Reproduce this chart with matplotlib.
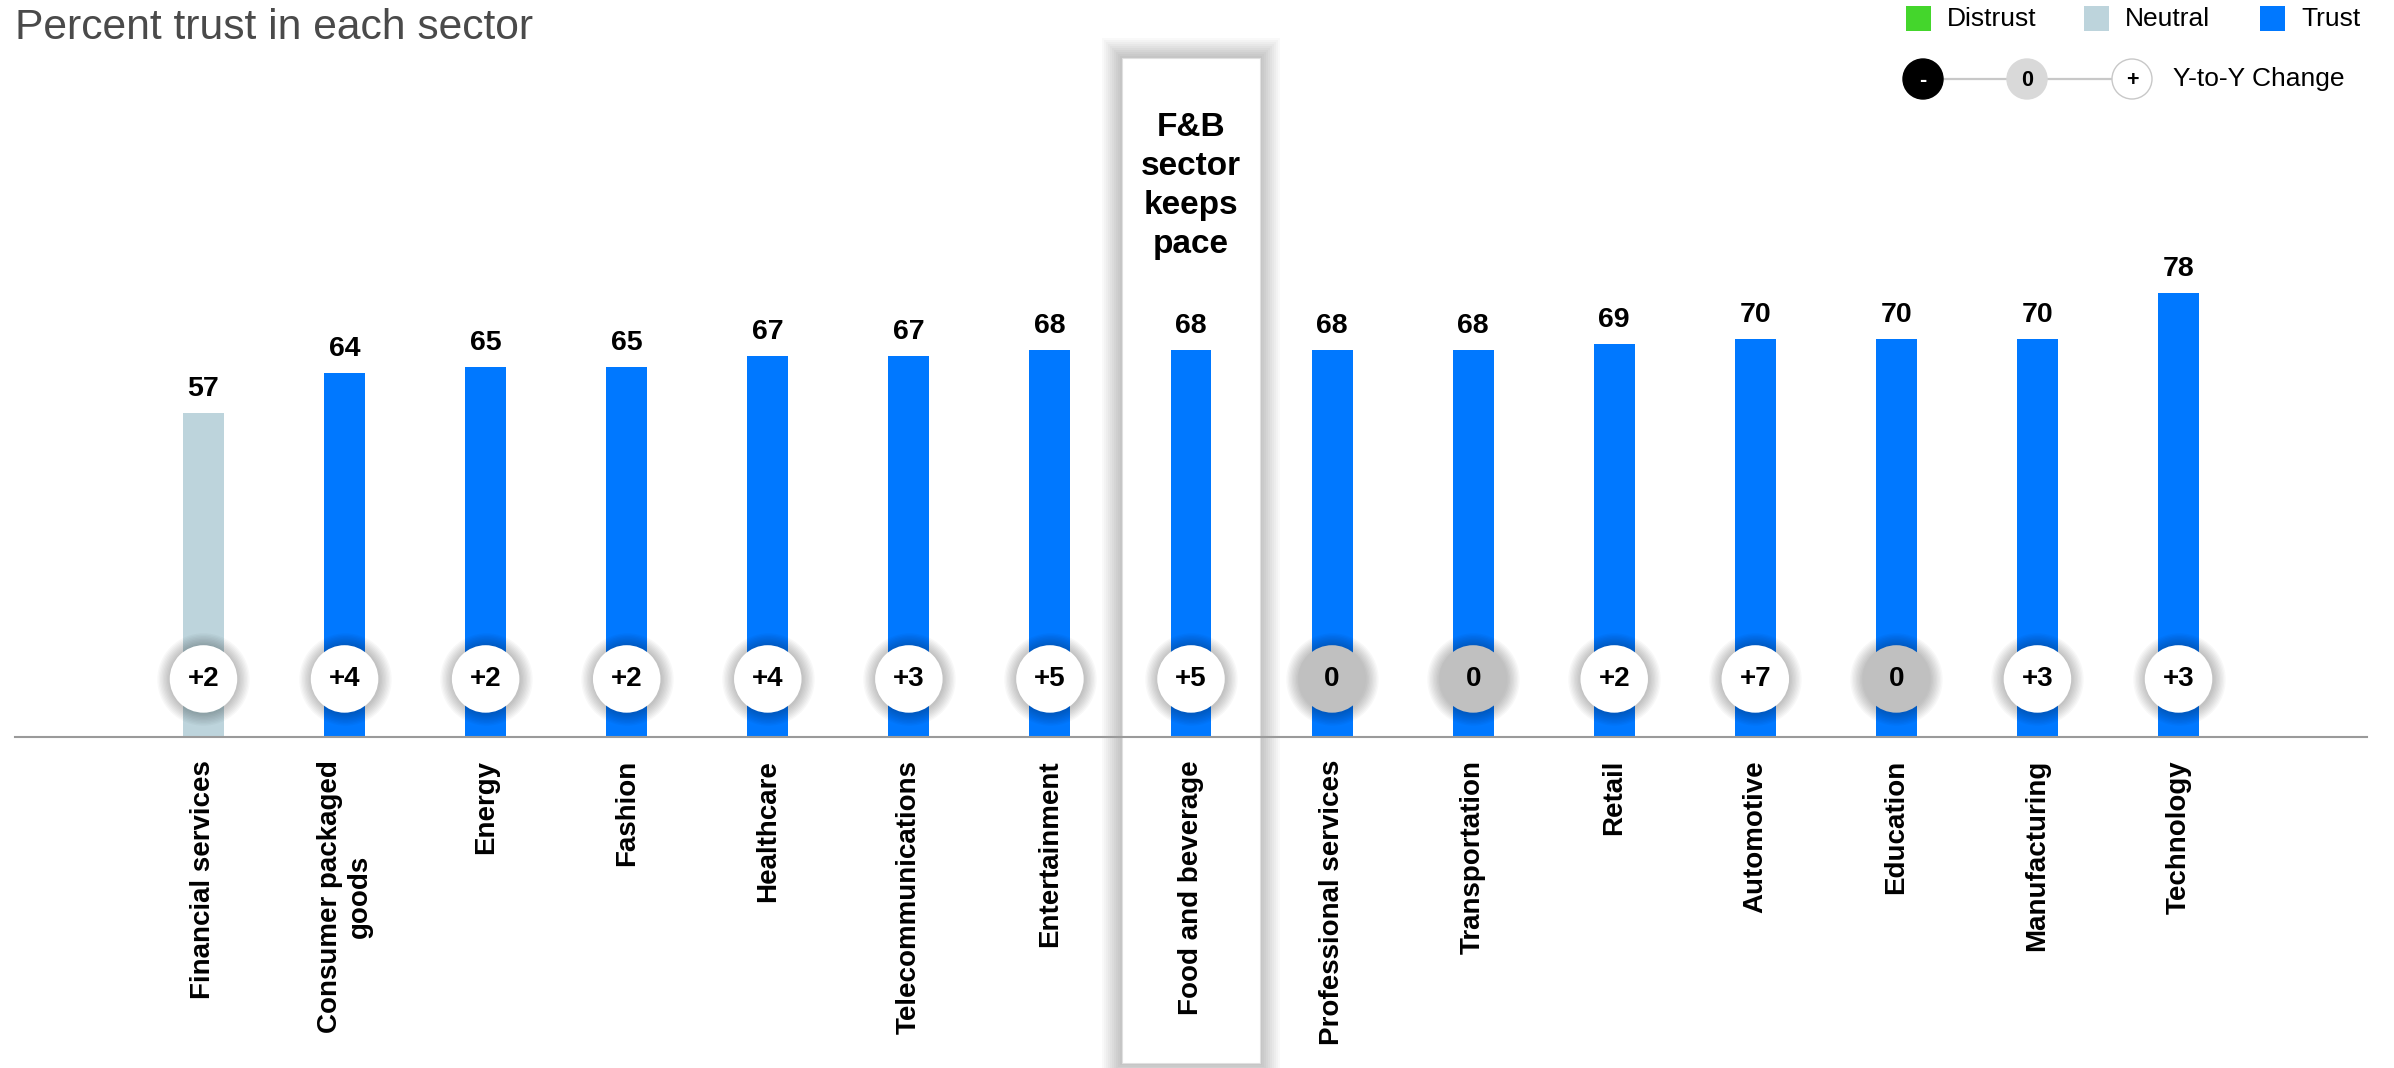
import numpy as np
import matplotlib.pyplot as plt
from matplotlib.patches import Rectangle, Circle
from matplotlib.transforms import blended_transform_factory

plt.rcParams['font.family'] = ['Liberation Sans', 'DejaVu Sans']

sectors = ["Financial services", "Consumer packaged\ngoods", "Energy", "Fashion",
           "Healthcare", "Telecommunications", "Entertainment", "Food and beverage",
           "Professional services", "Transportation", "Retail", "Automotive",
           "Education", "Manufacturing", "Technology"]
trust = [57, 64, 65, 65, 67, 67, 68, 68, 68, 68, 69, 70, 70, 70, 78]
change = [2, 4, 2, 2, 4, 3, 5, 5, 0, 0, 2, 7, 0, 3, 3]
highlight = "Food and beverage"
highlight_note = "F&B\nsector\nkeeps\npace"

DISTRUST = '#44D62C'
NEUTRAL = '#BDD4DC'
TRUST = '#0078FF'

def level_color(v):
    if v < 50:
        return DISTRUST
    if v < 60:
        return NEUTRAL
    return TRUST

W, H = 2394, 1068
fig = plt.figure(figsize=(W / 100, H / 100), dpi=100)

# main axes, baseline at y=737px, 141px per category
ax = fig.add_axes([15 / W, 331 / H, (2367 - 15) / W, 569.2 / H])
ax.set_xlim(-1.336, 15.336)
ax.set_ylim(0, 100)
x = np.arange(len(sectors))

bars = ax.bar(x, trust, width=0.29, color=[level_color(v) for v in trust], zorder=2)

for s in ['top', 'right', 'left']:
    ax.spines[s].set_visible(False)
ax.spines['bottom'].set_color('#9a9a9a')
ax.spines['bottom'].set_linewidth(1.5)
ax.spines['bottom'].set_zorder(4)
ax.set_yticks([])
ax.set_xticks(x)
ax.set_xticklabels(sectors, rotation=90, fontsize=20, fontweight='bold',
                   multialignment='center')
ax.tick_params(axis='x', length=0, pad=16.5)

# value labels above bars
for xi, v in zip(x, trust):
    ax.annotate(f"{v}", (xi, v), xytext=(0, 12.2), textcoords='offset points',
                ha='center', va='baseline', fontsize=20.5, fontweight='bold', zorder=5)

# year-over-year change bubbles with soft shadow
cy = 10.2
dsize = 48.6
for k in range(1, 10):
    ax.scatter(x, [cy] * len(x), s=(dsize + 2.0 * k) ** 2, color='black',
               alpha=0.028, linewidths=0, zorder=3)
faces = ['#C0C0C0' if c == 0 else 'white' for c in change]
ax.scatter(x, [cy] * len(x), s=dsize ** 2, color=faces, linewidths=0, zorder=3.5)
for xi, c in zip(x, change):
    lab = "0" if c == 0 else (f"+{c}" if c > 0 else f"{c}")
    ax.text(xi, cy, lab, ha='center', va='center', fontsize=20, fontweight='bold', zorder=5)

# highlight panel for the featured sector
hi = sectors.index(highlight)
tr = blended_transform_factory(ax.transData, fig.transFigure)
px = 1 / 141.07
half = 69 * px
top, bot = (H - 58) / H, (H - 1063) / H
for k in range(1, 11):
    g = k * 2
    ax.add_patch(Rectangle((hi - half - g * px, bot - g / H), 2 * half + 2 * g * px,
                           top - bot + 2 * g / H, transform=tr, facecolor='black',
                           edgecolor='none', alpha=0.022, clip_on=False, zorder=0.4))
ax.add_patch(Rectangle((hi - half, bot), 2 * half, top - bot, transform=tr,
                       facecolor='white', edgecolor='#e0e0e0', linewidth=0.8,
                       clip_on=False, zorder=0.5))
fig.text(1191 / W, (H - 112) / H, highlight_note, ha='center', va='top',
         fontsize=24, fontweight='bold', linespacing=1.34)

# title
fig.text(15 / W, (H - 39) / H, "Percent trust in each sector", ha='left', va='baseline',
         fontsize=30.7, color='#4a4a4a')

# legend drawn in pixel coordinates
lax = fig.add_axes([0, 0, 1, 1], zorder=10)
lax.set_xlim(0, W)
lax.set_ylim(H, 0)
lax.axis('off')
for x0, lab, col in [(1906, "Distrust", DISTRUST), (2084, "Neutral", NEUTRAL),
                     (2260, "Trust", TRUST)]:
    lax.add_patch(Rectangle((x0, 6), 25, 25, facecolor=col, edgecolor='none'))
    lax.text(x0 + 41, 19, lab, ha='left', va='center', fontsize=19)

lax.plot([1923, 2132], [79, 79], color='#c8c8c8', lw=1.6, zorder=1)
for cx, fc, ec, lab, tc in [(1923, 'black', 'black', "-", 'white'),
                            (2027, '#d9d9d9', '#d9d9d9', "0", 'black'),
                            (2132, 'white', '#c8c8c8', "+", 'black')]:
    lax.add_patch(Circle((cx, 79), 20, facecolor=fc, edgecolor=ec, lw=1.0, zorder=2))
    lax.text(cx, 80, lab, ha='center', va='center', fontsize=15.5, fontweight='bold',
             color=tc, zorder=3)
lax.text(2173, 79, "Y-to-Y Change", ha='left', va='center', fontsize=19)

fig.savefig("out.png", dpi=100, facecolor='white')
